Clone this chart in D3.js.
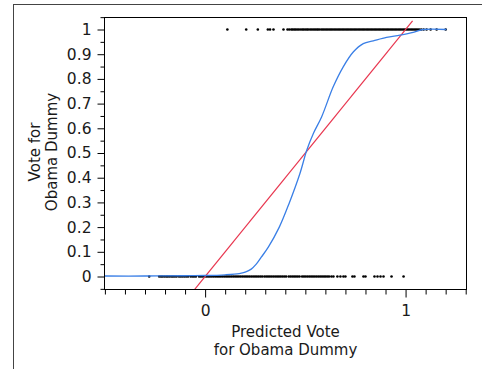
<!DOCTYPE html>
<html><head><meta charset="utf-8">
<script src="https://cdn.jsdelivr.net/npm/d3@7"></script>
<style>body{margin:0;background:#fff}svg{display:block}text{font-family:"DejaVu Sans",sans-serif;fill:#1a1a1a}</style>
</head><body><svg id="c" width="482" height="369"></svg>
<script>
const xDomain = [-0.502, 1.304];
const yDomain = [-0.0526, 1.0486];
const yMajorTicks = [0,0.1,0.2,0.3,0.4,0.5,0.6,0.7,0.8,0.9,1];
const yMinorTicks = [-0.05,0.05,0.15,0.25,0.35,0.45,0.55,0.65,0.75,0.85,0.95,1.05];
const xMajorTicks = [0,1];
const xMinorTicks = [-0.5,-0.4,-0.3,-0.2,-0.1,0.1,0.2,0.3,0.4,0.5,0.6,0.7,0.8,0.9,1.1,1.2,1.3];
const xTitle = ["Predicted Vote","for Obama Dummy"];
const yTitle = ["Vote for","Obama Dummy"];

// observed points with vote = 1
const votedYes = [0.111,0.205,0.263,0.313,0.324,0.341,0.391,0.411,0.42,0.43,0.437,0.445,0.452,0.46,0.468,0.477,0.485,0.492,0.5,0.508,0.515,0.524,0.532,0.54,0.548,0.556,0.563,0.571,0.58,0.588,0.596,0.604,0.612,0.62,0.628,0.636,0.644,0.652,0.66,0.668,0.676,0.684,0.692,0.7,0.708,0.716,0.724,0.732,0.74,0.748,0.756,0.764,0.772,0.78,0.788,0.796,0.804,0.812,0.82,0.828,0.836,0.844,0.852,0.86,0.868,0.876,0.884,0.892,0.9,0.908,0.916,0.924,0.932,0.94,0.948,0.956,0.964,0.972,0.98,0.988,0.996,1.004,1.012,1.02,1.028,1.036,1.044,1.052,1.06,1.068,1.078,1.09,1.105,1.125,1.155,1.2];
// observed points with vote = 0
const votedNo = [-0.279,-0.229,-0.22,-0.212,-0.203,-0.194,-0.186,-0.177,-0.168,-0.16,-0.151,-0.142,-0.13,-0.121,-0.112,-0.103,-0.094,-0.085,-0.072,-0.063,-0.055,-0.046,-0.03,-0.021,-0.012,-0.003,0.006,0.015,0.024,0.033,0.042,0.051,0.06,0.069,0.078,0.087,0.096,0.105,0.114,0.123,0.132,0.141,0.15,0.159,0.168,0.177,0.186,0.195,0.204,0.213,0.222,0.231,0.24,0.249,0.258,0.267,0.276,0.285,0.296,0.305,0.314,0.323,0.332,0.341,0.35,0.359,0.368,0.377,0.386,0.395,0.404,0.417,0.426,0.435,0.444,0.453,0.462,0.471,0.484,0.493,0.502,0.511,0.52,0.529,0.538,0.547,0.556,0.565,0.574,0.583,0.592,0.6,0.609,0.618,0.63,0.64,0.66,0.675,0.69,0.7,0.735,0.745,0.79,0.8,0.845,0.86,0.875,0.89,0.93,0.99];
// smoother fit (blue)
const smoothX = [-0.5,-0.3,-0.1,0,0.1,0.17,0.2,0.23,0.255,0.28,0.316,0.37,0.4185,0.473,0.507,0.54,0.581,0.639,0.689,0.739,0.789,0.839,0.905,0.972,1.038,1.088,1.204];
const smoothY = [0.002,0.002,0.003,0.004,0.007,0.012,0.018,0.03,0.05,0.078,0.12,0.2,0.295,0.417,0.511,0.579,0.646,0.768,0.849,0.909,0.943,0.954,0.968,0.977,0.988,1.0,1.0];
// linear fit (red)
const lineX = [-0.052,1.035];
const lineY = [-0.052,1.035];

const svg = d3.select("#c");
const L = 104.5, R = 466.5, T = 17.5, B = 289.5;
const x = d3.scaleLinear().domain(xDomain).range([L, R]);
const y = d3.scaleLinear().domain(yDomain).range([B, T]);

// outer frame
svg.append("rect").attr("x",13.5).attr("y",4.5).attr("width",520).attr("height",420)
  .attr("fill","none").attr("stroke","#444").attr("stroke-width",1);

svg.append("clipPath").attr("id","pc").append("rect")
  .attr("x",L).attr("y",T).attr("width",R-L).attr("height",B-T);
const g = svg.append("g").attr("clip-path","url(#pc)");

// dots
g.selectAll("circle.yes").data(votedYes).join("circle").attr("class","yes")
  .attr("cx",d=>x(d)).attr("cy",y(1)).attr("r",1.3).attr("fill","#000");
g.selectAll("circle.no").data(votedNo).join("circle").attr("class","no")
  .attr("cx",d=>x(d)).attr("cy",y(0)).attr("r",1.3).attr("fill","#000");

// red line
const lineData = lineX.map((v,i)=>[v,lineY[i]]);
g.append("path").datum(lineData).attr("fill","none").attr("stroke","#e8364f").attr("stroke-width",1.2)
  .attr("d", d3.line().x(d=>x(d[0])).y(d=>y(d[1])));

// blue smoother
const smoothData = smoothX.map((v,i)=>[v,smoothY[i]]);
g.append("path").datum(smoothData).attr("fill","none").attr("stroke","#3a7fe6").attr("stroke-width",1.3)
  .attr("d", d3.line().x(d=>x(d[0])).y(d=>y(d[1])).curve(d3.curveCatmullRom.alpha(0.5)));

// plot frame
svg.append("rect").attr("x",L).attr("y",T).attr("width",R-L).attr("height",B-T)
  .attr("fill","none").attr("stroke","#000").attr("stroke-width",1);

const FS = "15.5px";
// y axis
const yAx = svg.append("g").attr("transform",`translate(${L},0)`)
  .call(d3.axisLeft(y).tickValues(yMajorTicks).tickSize(7).tickPadding(6).tickFormat(d3.format("")));
yAx.select(".domain").remove();
yAx.selectAll("text").style("font-size",FS).style("font-family","DejaVu Sans").attr("fill","#1a1a1a");
const yMin = svg.append("g").attr("transform",`translate(${L},0)`)
  .call(d3.axisLeft(y).tickValues(yMinorTicks).tickSize(4).tickFormat(""));
yMin.select(".domain").remove();

// x axis
const xAx = svg.append("g").attr("transform",`translate(0,${B})`)
  .call(d3.axisBottom(x).tickValues(xMajorTicks).tickSize(8).tickPadding(7).tickFormat(d3.format("")));
xAx.select(".domain").remove();
xAx.selectAll("text").style("font-size",FS).style("font-family","DejaVu Sans").attr("fill","#1a1a1a");
const xMin = svg.append("g").attr("transform",`translate(0,${B})`)
  .call(d3.axisBottom(x).tickValues(xMinorTicks).tickSize(5).tickFormat(""));
xMin.select(".domain").remove();

// titles
const cx = (L+R)/2;
xTitle.forEach((t,i)=>svg.append("text").attr("x",cx).attr("y",337+i*18)
  .attr("text-anchor","middle").style("font-size","15px").text(t));
const cy = 152;
yTitle.forEach((t,i)=>svg.append("text").attr("transform",`translate(${39.5+i*17.5},${cy}) rotate(-90)`)
  .attr("text-anchor","middle").style("font-size","15px").text(t));
</script></body></html>
